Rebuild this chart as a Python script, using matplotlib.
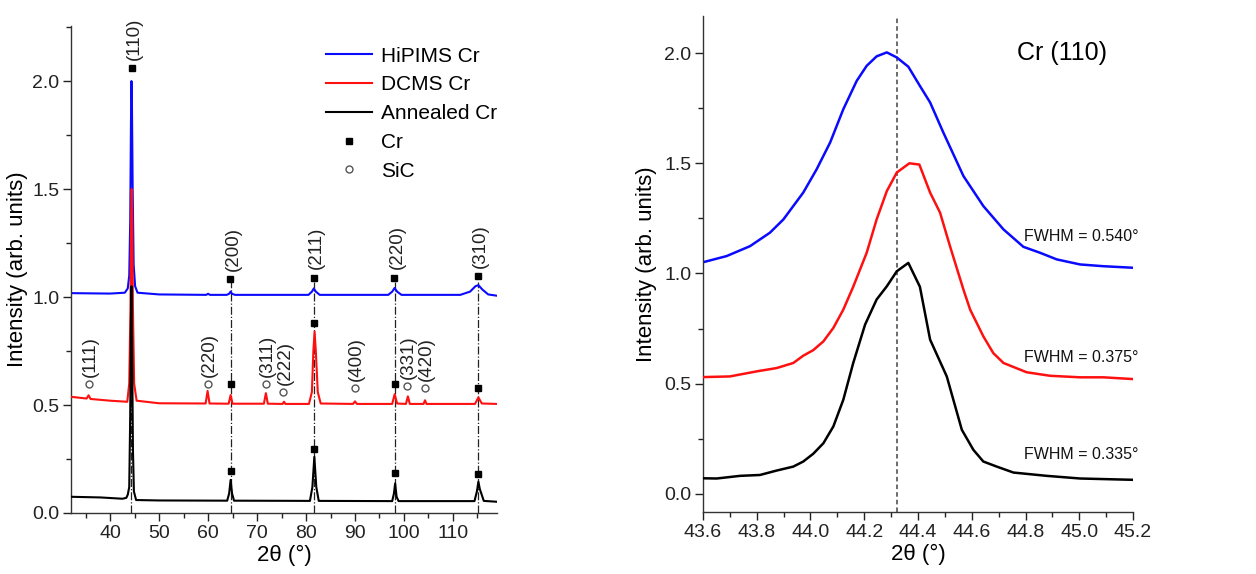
import numpy as np
import matplotlib
matplotlib.use("Agg")
import matplotlib.pyplot as plt
from matplotlib.ticker import MultipleLocator
from matplotlib.lines import Line2D

plt.rcParams['font.family'] = ['Liberation Sans', 'DejaVu Sans']

# ---- left panel: full scans ----
hip_x = [32, 40, 43.0, 43.6, 43.9, 44.1, 44.25, 44.35, 44.45, 44.6, 44.8, 45.1, 45.6, 50,
         59.6, 60.0, 60.4, 63.8, 64.3, 64.6, 64.9, 65.5, 80.5, 81.2, 81.6, 82.0, 82.8,
         96.8, 97.6, 98.1, 98.6, 99.5, 111.5, 113.5, 114.6, 115.2, 116.0, 117.2, 119]
hip_y = [1.018, 1.016, 1.02, 1.04, 1.1, 1.35, 1.8, 2.0, 1.9, 1.5, 1.15, 1.05, 1.02, 1.012,
         1.01, 1.015, 1.01, 1.01, 1.015, 1.025, 1.015, 1.01, 1.01, 1.025, 1.04, 1.025, 1.01,
         1.01, 1.025, 1.042, 1.025, 1.01, 1.01, 1.025, 1.05, 1.055, 1.035, 1.012, 1.006]

dc_x = [32, 35.2, 35.6, 36.0, 40, 43.5, 43.9, 44.15, 44.3, 44.4, 44.5, 44.65, 44.9, 45.4, 50,
        59.5, 59.9, 60.3, 64.2, 64.6, 65.0, 71.4, 71.8, 72.2, 75.2, 75.5, 75.8,
        80.6, 81.2, 81.5, 81.75, 82.0, 82.4, 83.0, 89.6, 90.0, 90.4, 97.6, 98.1, 98.6,
        100.4, 100.8, 101.2, 104.0, 104.3, 104.6, 114.5, 115.2, 115.9, 119]
dc_y = [0.538, 0.53, 0.545, 0.528, 0.52, 0.515, 0.6, 0.95, 1.4, 1.5, 1.4, 0.95, 0.6, 0.52, 0.508,
        0.507, 0.565, 0.507, 0.506, 0.546, 0.506, 0.506, 0.555, 0.506, 0.505, 0.515, 0.505,
        0.505, 0.56, 0.75, 0.84, 0.75, 0.56, 0.507, 0.505, 0.517, 0.505, 0.505, 0.55, 0.507,
        0.505, 0.54, 0.505, 0.505, 0.522, 0.505, 0.505, 0.535, 0.507, 0.505]

ann_x = [32, 38, 42.5, 43.3, 43.6, 43.9, 44.1, 44.25, 44.37, 44.5, 44.65, 44.85, 45.3, 50,
         63.9, 64.3, 64.6, 64.9, 65.3, 80.8, 81.3, 81.7, 82.1, 82.6, 97.6, 97.95, 98.2, 98.5,
         98.9, 114.4, 114.9, 115.2, 115.5, 115.8, 116.3, 119]
ann_y = [0.075, 0.072, 0.066, 0.07, 0.085, 0.12, 0.45, 0.9, 1.05, 0.75, 0.3, 0.1, 0.06, 0.058,
         0.057, 0.09, 0.153, 0.09, 0.057, 0.056, 0.12, 0.26, 0.12, 0.056, 0.055, 0.09, 0.137, 0.075,
         0.055, 0.055, 0.1, 0.145, 0.11, 0.09, 0.056, 0.052]

# Cr reflections (filled squares)
cr_hkl = ['(110)', '(200)', '(211)', '(220)', '(310)']
cr_hip_x = [44.4, 64.5, 81.6, 98.0, 115.1]
cr_hip_y = [2.06, 1.083, 1.09, 1.09, 1.097]
cr_dc_x = [64.6, 81.7, 98.1, 115.2]
cr_dc_y = [0.597, 0.88, 0.597, 0.58]
cr_ann_x = [64.6, 81.7, 98.1, 115.2]
cr_ann_y = [0.196, 0.296, 0.187, 0.18]
cr_lines = [44.3, 64.6, 81.7, 98.2, 115.2]

# SiC reflections (open circles)
sic_hkl = ['(111)', '(220)', '(311)', '(222)', '(400)', '(331)', '(420)']
sic_x = [35.7, 59.9, 71.8, 75.4, 90.0, 100.7, 104.3]
sic_y = [0.597, 0.597, 0.597, 0.559, 0.579, 0.588, 0.579]

# ---- right panel: Cr (110) zoom ----
z_hip_x = [43.6, 43.688, 43.775, 43.849, 43.899, 43.973, 44.023, 44.073, 44.122, 44.172, 44.209,
           44.246, 44.284, 44.321, 44.364, 44.407, 44.445, 44.494, 44.569, 44.643, 44.718,
           44.792, 44.854, 44.916, 45.003, 45.09, 45.2]
z_hip_y = [1.051, 1.079, 1.124, 1.185, 1.245, 1.367, 1.473, 1.594, 1.745, 1.874, 1.942,
           1.985, 2.003, 1.98, 1.938, 1.851, 1.776, 1.64, 1.442, 1.306, 1.2,
           1.121, 1.094, 1.064, 1.041, 1.033, 1.026]

z_dc_x = [43.6, 43.7, 43.8, 43.874, 43.936, 43.973, 44.01, 44.048, 44.085, 44.122, 44.159,
          44.209, 44.246, 44.284, 44.321, 44.368, 44.405, 44.445, 44.482, 44.519, 44.569,
          44.594, 44.643, 44.68, 44.718, 44.804, 44.891, 45.003, 45.09, 45.2]
z_dc_y = [0.53, 0.533, 0.556, 0.571, 0.594, 0.627, 0.652, 0.692, 0.753, 0.836, 0.94,
          1.094, 1.245, 1.374, 1.458, 1.5, 1.494, 1.367, 1.276, 1.124, 0.927,
          0.836, 0.715, 0.639, 0.594, 0.552, 0.536, 0.529, 0.529, 0.521]

z_ann_x = [43.6, 43.651, 43.738, 43.812, 43.874, 43.936, 43.973, 44.01, 44.048, 44.085, 44.122,
           44.159, 44.203, 44.246, 44.284, 44.321, 44.364, 44.407, 44.445, 44.507, 44.563,
           44.606, 44.643, 44.693, 44.755, 44.879, 45.003, 45.2]
z_ann_y = [0.071, 0.07, 0.082, 0.086, 0.106, 0.124, 0.147, 0.182, 0.23, 0.306, 0.427,
           0.594, 0.768, 0.882, 0.942, 1.01, 1.048, 0.94, 0.7, 0.533, 0.291,
           0.2, 0.147, 0.124, 0.097, 0.082, 0.07, 0.064]

fwhm_txt = ['FWHM = 0.540°', 'FWHM = 0.375°', 'FWHM = 0.335°']
fwhm_y = [1.168, 0.62, 0.177]

blue = '#0a0aff'
red = '#ff1010'

fig = plt.figure(figsize=(12.56, 5.74), dpi=100)
ax1 = fig.add_axes([0.0565, 0.1063, 0.3392, 0.8484])
ax2 = fig.add_axes([0.5597, 0.108, 0.3424, 0.8641])

# left
for xv in cr_lines:
    ax1.plot([xv, xv], [0, 1.07], color='#222222', lw=0.9, ls='-.', zorder=1)
ax1.plot(hip_x, hip_y, color=blue, lw=1.5, zorder=2)
ax1.plot(dc_x, dc_y, color=red, lw=1.5, zorder=3)
ax1.plot(ann_x, ann_y, color='black', lw=1.5, zorder=4)

ax1.plot(cr_hip_x, cr_hip_y, 's', color='black', ms=5, ls='none', zorder=5)
ax1.plot(cr_dc_x, cr_dc_y, 's', color='black', ms=5, ls='none', zorder=5)
ax1.plot(cr_ann_x, cr_ann_y, 's', color='black', ms=5, ls='none', zorder=5)
ax1.plot(sic_x, sic_y, 'o', mfc='white', mec='#555555', ms=5, mew=1, ls='none', zorder=5)

for lab, xv, yv in zip(cr_hkl, cr_hip_x, cr_hip_y):
    ax1.annotate(lab, (xv, yv), xytext=(2, 6), textcoords='offset points',
                 rotation=90, ha='center', va='bottom', fontsize=13.5, color='#222222')
for lab, xv, yv in zip(sic_hkl, sic_x, sic_y):
    ax1.annotate(lab, (xv, yv), xytext=(1, 5), textcoords='offset points',
                 rotation=90, ha='center', va='bottom', fontsize=13.5, color='#222222')

handles = [Line2D([], [], color=blue, lw=1.5),
           Line2D([], [], color=red, lw=1.5),
           Line2D([], [], color='black', lw=1.5),
           Line2D([], [], marker='s', color='black', ms=5, ls='none'),
           Line2D([], [], marker='o', mfc='white', mec='#555555', ms=5, ls='none')]
ax1.legend(handles, ['HiPIMS Cr', 'DCMS Cr', 'Annealed Cr', 'Cr', 'SiC'],
           loc='upper left', bbox_to_anchor=(0.58, 0.975), frameon=False,
           fontsize=15, handlelength=2.2, handletextpad=0.4, labelspacing=0.47,
           borderaxespad=0)

ax1.set_xlim(32, 119)
ax1.set_ylim(0, 2.255)
ax1.xaxis.set_major_locator(MultipleLocator(10))
ax1.xaxis.set_minor_locator(MultipleLocator(5))
ax1.yaxis.set_major_locator(MultipleLocator(0.5))
ax1.yaxis.set_minor_locator(MultipleLocator(0.25))
ax1.set_xlabel('2θ (°)', fontsize=16, labelpad=2)
ax1.set_ylabel('Intensity (arb. units)', fontsize=16, labelpad=3)

# right
ax2.axvline(44.32, color='#444444', lw=1.1, ls=(0, (3, 2)), zorder=1)
ax2.plot(z_hip_x, z_hip_y, color=blue, lw=1.8, zorder=2)
ax2.plot(z_dc_x, z_dc_y, color=red, lw=1.8, zorder=3)
ax2.plot(z_ann_x, z_ann_y, color='black', lw=1.8, zorder=4)
for t, yv in zip(fwhm_txt, fwhm_y):
    ax2.text(45.22, yv, t, ha='right', va='center', fontsize=11.5, clip_on=False, color='#111111')
ax2.text(44.77, 2.0, 'Cr (110)', ha='left', va='center', fontsize=18)

ax2.set_xlim(43.6, 45.2)
ax2.set_ylim(-0.082, 2.168)
ax2.xaxis.set_major_locator(MultipleLocator(0.2))
ax2.xaxis.set_minor_locator(MultipleLocator(0.1))
ax2.yaxis.set_major_locator(MultipleLocator(0.5))
ax2.yaxis.set_minor_locator(MultipleLocator(0.25))
ax2.set_xlabel('2θ (°)', fontsize=16, labelpad=2)
ax2.set_ylabel('Intensity (arb. units)', fontsize=16, labelpad=5)

for ax in (ax1, ax2):
    ax.spines['top'].set_visible(False)
    ax.spines['right'].set_visible(False)
    for s in ('left', 'bottom'):
        ax.spines[s].set_color('#333333')
        ax.spines[s].set_linewidth(1.0)
    ax.tick_params(which='major', direction='out', length=6, width=1, labelsize=14,
                   colors='#222222', pad=2.5)
    ax.tick_params(which='minor', direction='out', length=3.5, width=1, colors='#222222')

fig.savefig('out.png', dpi=100)
